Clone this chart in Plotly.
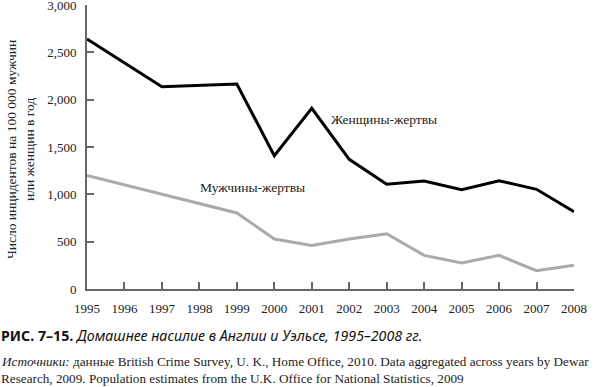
import plotly.graph_objects as go

years_w = [1995, 1997, 1999, 2000, 2001, 2002, 2003, 2004, 2005, 2006, 2007, 2008]
women = [2640, 2137, 2165, 1408, 1909, 1370, 1106, 1141, 1049, 1144, 1053, 817]
years_m = [1995, 1997, 1999, 2000, 2001, 2002, 2003, 2004, 2005, 2006, 2007, 2008]
men = [1200, 1005, 803, 528, 461, 528, 584, 355, 274, 355, 193, 250]
x_ticks = list(range(1995, 2009))
y_ticks = [0, 500, 1000, 1500, 2000, 2500, 3000]

L, R, T, B = 87, 574, 5, 289
W, H = 600, 387

def px(x):
    return (x - L) / (R - L)

def py(y):
    return (B - y) / (B - T)

serif = "Liberation Serif, Times New Roman, serif"
sans = "Noto Sans, Open Sans, sans-serif"

fig = go.Figure()
fig.add_trace(go.Scatter(x=years_m, y=men, mode="lines", hoverinfo="skip",
                         line=dict(color="#aaaaaa", width=3), showlegend=False, cliponaxis=False))
fig.add_trace(go.Scatter(x=years_w, y=women, mode="lines", hoverinfo="skip",
                         line=dict(color="#000000", width=3), showlegend=False, cliponaxis=False))

axis_common = dict(showgrid=False, zeroline=False, showline=True, automargin=False,
                   linecolor="#666666", linewidth=2, ticks="inside",
                   ticklen=7, tickwidth=2, tickcolor="#666666",
                   ticklabeloverflow="allow",
                   tickfont=dict(family=serif, size=13, color="#222222"))

fig.update_layout(
    width=W, height=H,
    margin=dict(l=L, r=W - R, t=T, b=H - B),
    paper_bgcolor="white", plot_bgcolor="white",
    xaxis=dict(range=[1995, 2008], tickvals=x_ticks,
               ticktext=[str(v) for v in x_ticks], ticklabelstandoff=6, **axis_common),
    yaxis=dict(range=[0, 3000], tickvals=y_ticks, tickformat=",",
               ticklabelstandoff=6, **axis_common),
)

ann = []
ann.append(dict(x=px(20), y=py(150), xref="paper", yref="paper",
                text="Число инцидентов на 100 000 мужчин<br>или женщин в год",
                textangle=-90, showarrow=False, xanchor="center", yanchor="middle",
                font=dict(family=serif, size=13.5, color="#222222")))
ann.append(dict(x=px(329), y=py(119), xref="paper", yref="paper",
                text="Женщины-жертвы", showarrow=False, xanchor="left", yanchor="middle",
                font=dict(family=serif, size=13.5, color="#222222")))
ann.append(dict(x=px(198), y=py(188), xref="paper", yref="paper",
                text="Мужчины-жертвы", showarrow=False, xanchor="left", yanchor="middle",
                font=dict(family=serif, size=13.5, color="#222222")))
ann.append(dict(x=px(-1), y=py(335), xref="paper", yref="paper",
                text="<b>РИС. 7–15.</b> <i>Домашнее насилие в Англии и Уэльсе, 1995–2008 гг.</i>",
                showarrow=False, xanchor="left", yanchor="middle",
                font=dict(family=sans, size=14.2, color="#111111")))
ann.append(dict(x=px(-1), y=py(361), xref="paper", yref="paper",
                text="<i>Источники:</i> данные British Crime Survey, U. K., Home Office, 2010. Data aggregated across years by Dewar",
                showarrow=False, xanchor="left", yanchor="middle",
                font=dict(family=serif, size=13.2, color="#222222")))
ann.append(dict(x=px(-1), y=py(378), xref="paper", yref="paper",
                text="Research, 2009. Population estimates from the U.K. Office for National Statistics, 2009",
                showarrow=False, xanchor="left", yanchor="middle",
                font=dict(family=serif, size=13.2, color="#222222")))
fig.update_layout(annotations=ann)

fig.write_html("out.html", config={"displayModeBar": False},
               post_script="document.body.style.margin='0';document.body.style.padding='0';")
